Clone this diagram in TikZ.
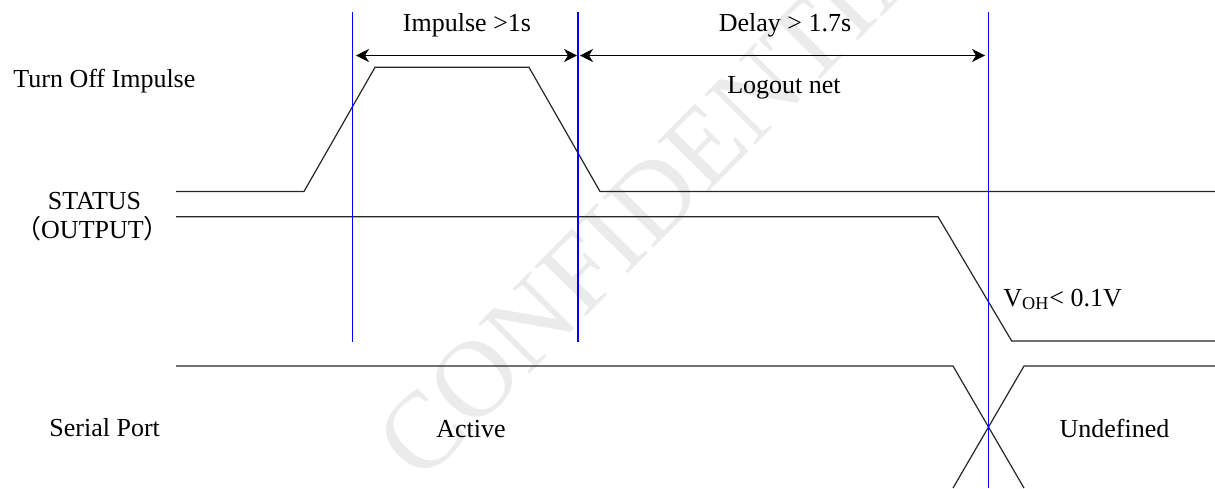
\documentclass[tikz,border=0pt]{standalone}
\usepackage{fontspec}
\setmainfont{Liberation Serif}
\newfontfamily\cjk{Noto Sans CJK SC}
\usepackage{xcolor}
\usepackage{tikz}
\usetikzlibrary{arrows.meta}
\usetikzlibrary{positioning}

\definecolor{cursorblue}{RGB}{0,0,255}
\tikzset{
  lbl/.style={inner sep=0, font=\fontsize{13}{15}\selectfont},
  wave/.style={line width=0.6pt, black!85},
  cursorline/.style={line width=0.6pt, draw=cursorblue},
  dim/.style={{Stealth[length=6.5pt,width=6.5pt,inset=2pt]}-{Stealth[length=6.5pt,width=6.5pt,inset=2pt]}, line width=0.5pt}
}

\begin{document}
\begin{tikzpicture}[x=0.5pt,y=-0.5pt]%[every node/.style={inner sep=0}]
    \useasboundingbox (0,0) rectangle (1215,488);
    \node(wm)[rotate=45.4, inner sep=0, text=gray!16, font=\fontsize{54.6}{58}\selectfont] at (677,174) {CONFIDENTIAL};

    \draw[wave] (176,191.5) -- (304,191.5) -- (375,67.3) -- (529,67.3) -- (600,191.5) -- (1215,191.5);
    \draw[wave] (176,216.7) -- (938,216.7) -- (1011.7,341) -- (1215,341);
    \draw[wave] (176,366) -- (953,366) -- (1024,488);
    \draw[wave] (953,488) -- (1024,366) -- (1215,366);

    \coordinate(a1) at (356,55.5); \coordinate(a2) at (577,55.5);
    \coordinate(a3) at (580,55.5); \coordinate(a4) at (985,55.5);
    \draw[dim] (a1) -- (a2);
    \draw[dim] (a3) -- (a4);

    \coordinate(c1t) at (352.5,12); \coordinate(c1b) at (352.5,342);
    \coordinate(c2t) at (578,12);   \coordinate(c2b) at (578,342);
    \coordinate(c3t) at (988.5,12); \coordinate(c3b) at (988.5,488);
    \draw[cursorline] (c1t) -- (c1b);
    \draw[cursorline] (c2t) -- (c2b);
    \draw[cursorline] (c3t) -- (c3b);

    \node(imp)[lbl, anchor=base] at (467,31) {Impulse >1s};
    \node(dly)[lbl, anchor=base] at (785,31) {Delay > 1.7s};
    \node(net)[lbl, anchor=base] at (784,93) {Logout net};
    \node(off)[lbl, anchor=base west] at (13,87) {Turn Off Impulse};
    \node(sts)[lbl, anchor=base] at (94.5,209) {STATUS};
    \node(out)[lbl, anchor=base] at (92.5,238) {{\cjk （}OUTPUT{\cjk ）}};
    \node(voh)[lbl, anchor=base west] at (1003,306) {V\textsubscript{OH}< 0.1V};
    \node(ser)[lbl, anchor=base west] at (49,436) {Serial Port};
    \node(act)[lbl, anchor=base] at (471,437) {Active};
    \node(und)[lbl, anchor=base] at (1114.5,437) {Undefined};
\end{tikzpicture}
\end{document}
